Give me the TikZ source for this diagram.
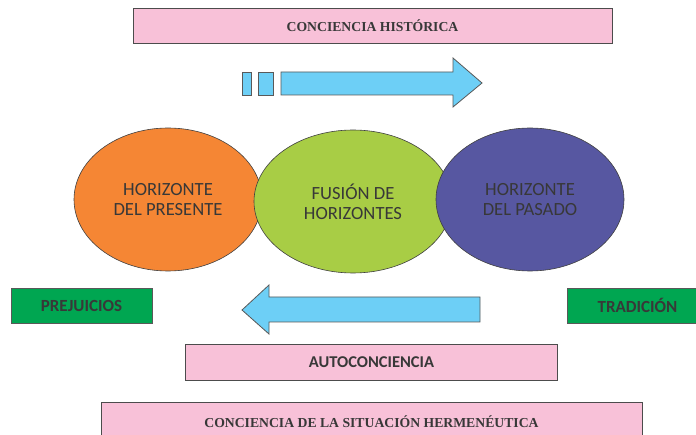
\documentclass[tikz,border=0pt]{standalone}
\usepackage{fontspec}
\setmainfont{Liberation Serif}
\newfontfamily\calib{Carlito}
\usepackage{tikz}
\usetikzlibrary{shapes.geometric}
\definecolor{rosa}{HTML}{F8C1D8}
\definecolor{celeste}{HTML}{6DCFF6}
\definecolor{naranja}{HTML}{F58634}
\definecolor{lima}{HTML}{A8CD45}
\definecolor{violeta}{HTML}{5757A1}
\definecolor{verde}{HTML}{00A651}
\definecolor{texto}{HTML}{383838}
\tikzset{
	pinkbox/.style={rectangle,fill=rosa,draw=black!70,line width=0.8pt,inner sep=0pt,text=texto,font=\bfseries\fontsize{13.7}{16}\selectfont},
	pinksans/.style={pinkbox,font=\calib\bfseries\fontsize{16.5}{18}\selectfont},
	greenbox/.style={rectangle,fill=verde,draw=black!65,line width=0.8pt,inner sep=0pt,minimum width=141,minimum height=35,text=texto,font=\calib\bfseries\fontsize{17}{19}\selectfont},
	horizon/.style={ellipse,draw=black!75,line width=0.6pt,inner sep=0pt,minimum width=188,minimum height=143,align=center,text=texto,font=\calib\fontsize{18.6}{20}\selectfont},
	blockarrow/.style={fill=celeste,draw=black!65,line width=0.8pt,line join=miter},
}
\begin{document}
\begin{tikzpicture}[x=1pt,y=-1pt]
\useasboundingbox (0,0) rectangle (696,435);
\clip (0,0) rectangle (696,435);

\node (historica) at (372.5,25.5) [pinkbox,minimum width=479,minimum height=35] {CONCIENCIA HISTÓRICA};

% flecha superior
\foreach \a/\b in {242/251,258/273}
 \draw[blockarrow] (\a,72) rectangle (\b,95);
\draw[blockarrow] (281,72) -- (453,72) -- (453,58) -- (482,83) -- (453,107) -- (453,95) -- (281,95) -- cycle;

% horizontes
\node (presente) at (168,199.5) [horizon,fill=naranja] {HORIZONTE\\DEL PRESENTE};
\node (fusion) at (353,201.5) [horizon,fill=lima,minimum width=198] {FUSIÓN DE\\HORIZONTES};
\node (pasado) at (530,199.5) [horizon,fill=violeta] {HORIZONTE\\DEL PASADO};

\node (prejuicios) at (81.5,305.5) [greenbox] {PREJUICIOS};
\node (tradicion) at (637.5,305.5) [greenbox] {TRADICIÓN};

% flecha inferior
\draw[blockarrow] (480,297) -- (269,297) -- (269,285) -- (242,310) -- (269,334) -- (269,322) -- (480,322) -- cycle;

\node (auto) at (371.5,362) [pinksans,minimum width=372,minimum height=36] {AUTOCONCIENCIA};
\node (situacion) at (371.5,422) [pinkbox,minimum width=541,minimum height=40] {CONCIENCIA DE LA SITUACIÓN HERMENÉUTICA};
\end{tikzpicture}
\end{document}
